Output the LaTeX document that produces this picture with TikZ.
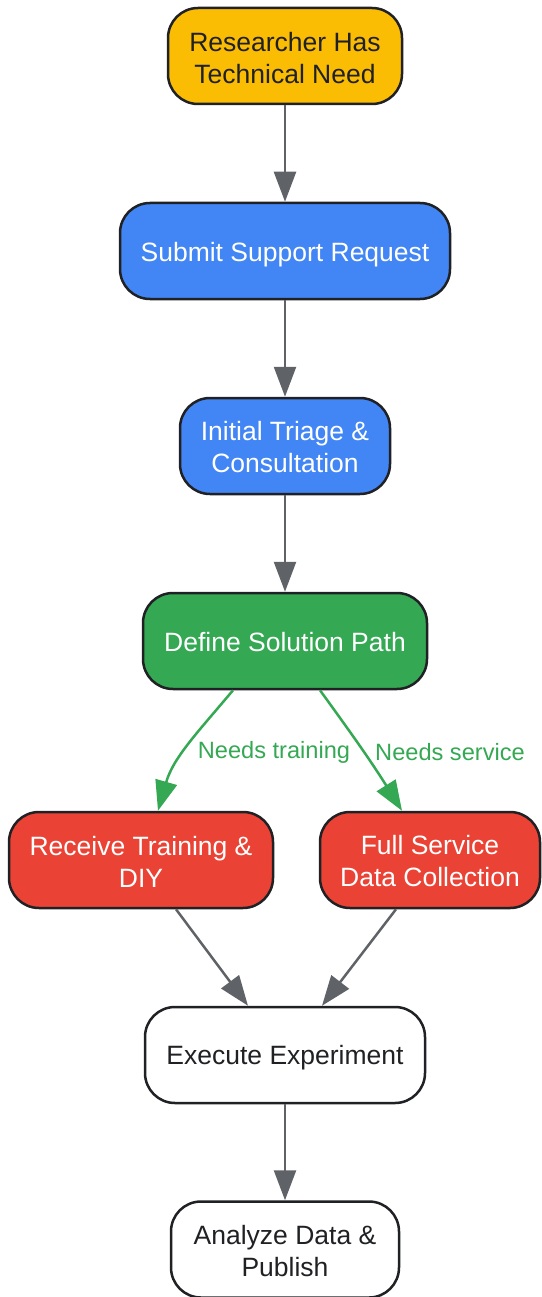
\documentclass[tikz,border=0pt]{standalone}
\usepackage{fontspec}
\setmainfont{Liberation Sans}
\usetikzlibrary{arrows.meta}
\definecolor{cyellow}{HTML}{FBBC04}
\definecolor{cblue}{HTML}{4285F4}
\definecolor{cgreen}{HTML}{34A853}
\definecolor{cred}{HTML}{EA4335}
\definecolor{cborder}{HTML}{202124}
\definecolor{cedge}{HTML}{5F6368}
\definecolor{ctext}{HTML}{202124}
\tikzset{
  box/.style={draw=cborder, line width=2.5pt, rounded corners=30pt, minimum height=96pt,
    inner sep=0pt},
  txt/.style={inner sep=0pt, align=center, font=\fontsize{26.5}{32}\selectfont},
  txtd/.style={txt, text=ctext},
  txtw/.style={txt, text=white},
  garrow/.style={draw=cedge, line width=2.5pt, -{Triangle[width=22pt,length=30pt]}},
  gnarrow/.style={draw=cgreen, line width=2.5pt, -{Triangle[width=22pt,length=30pt]}},
  elabel/.style={text=cgreen, inner sep=0pt, font=\fontsize{23.6}{28}\selectfont}
}
\begin{document}
\begin{tikzpicture}[x=1pt,y=-1pt]
\useasboundingbox (0,0) rectangle (541,1297);
\node[box, fill=cyellow, minimum width=234pt,
  label={[txtd, yshift=-2pt]center:Researcher Has\\Technical Need}] (need) at (285,56) {};
\node[box, fill=cblue, minimum width=330pt,
  label={[txtw, yshift=-3.5pt]center:Submit Support Request}] (submit) at (285,251) {};
\node[box, fill=cblue, minimum width=210pt,
  label={[txtw, yshift=-1pt]center:Initial Triage \&\\Consultation}] (triage) at (285,446) {};
\node[box, fill=cgreen, minimum width=284pt,
  label={[txtw, yshift=-1.5pt]center:Define Solution Path}] (define) at (285,641) {};
\node[box, fill=cred, minimum width=264pt,
  label={[txtw, yshift=-1.5pt]center:Receive Training \&\\DIY}] (train) at (141,860) {};
\node[box, fill=cred, minimum width=220pt,
  label={[txtw, yshift=-1.5pt]center:Full Service\\Data Collection}] (full) at (430,860) {};
\node[box, fill=white, minimum width=280pt,
  label={[txtd, yshift=-3pt]center:Execute Experiment}] (exec) at (285,1055) {};
\node[box, fill=white, minimum width=228pt,
  label={[txtd, yshift=-2pt]center:Analyze Data \&\\Publish}] (anal) at (285,1249.5) {};

\draw[garrow] (need) -- (submit);
\draw[garrow] (submit) -- (triage);
\draw[garrow] (triage) -- (define);
\draw[gnarrow] ([xshift=-52pt]define.south) to[out=-130,in=74] ([xshift=17pt]train.north);
\draw[gnarrow] ([xshift=35pt]define.south) to[out=-54,in=122] ([xshift=-28pt]full.north);
\node[elabel] (lt) at (274,752) {Needs training};
\node[elabel] (ls) at (450,752) {Needs service};
\draw[garrow] ([xshift=35pt]train.south) -- ([xshift=-37pt]exec.north);
\draw[garrow] ([xshift=-34pt]full.south) -- ([xshift=37pt]exec.north);
\draw[garrow] (exec) -- (anal);
\end{tikzpicture}
\end{document}
